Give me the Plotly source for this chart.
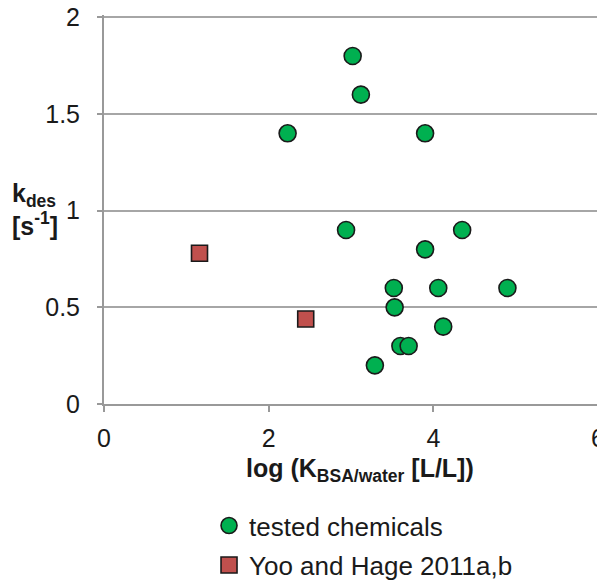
import plotly.graph_objects as go

tested_x = [3.02, 3.12, 2.23, 3.9, 2.94, 4.35, 3.9, 3.52, 4.06, 4.9, 3.53, 4.12, 3.6, 3.7, 3.29]
tested_y = [1.8, 1.6, 1.4, 1.4, 0.9, 0.9, 0.8, 0.6, 0.6, 0.6, 0.5, 0.4, 0.3, 0.3, 0.2]
yoo_x = [1.16, 2.45]
yoo_y = [0.78, 0.44]

fig = go.Figure()
fig.add_trace(go.Scatter(x=tested_x, y=tested_y, mode="markers", name="tested chemicals",
                         legend="legend",
                         marker=dict(symbol="circle", size=17, color="#00B050",
                                     line=dict(color="#1a1a1a", width=1.6))))
fig.add_trace(go.Scatter(x=yoo_x, y=yoo_y, mode="markers", name="Yoo and Hage 2011a,b",
                         legend="legend2",
                         marker=dict(symbol="square", size=16, color="#C0504D",
                                     line=dict(color="#1a1a1a", width=1.6))))

font = "Liberation Sans, Arial, sans-serif"
fs = 25
# page body has an 8px margin, so the figure is 8px smaller than the window
fig.update_layout(
    width=597, height=574,
    margin=dict(l=96, r=7, t=7, b=178, autoexpand=False),
    plot_bgcolor="white", paper_bgcolor="white",
    font=dict(family=font, size=fs, color="#1a1a1a"),
    xaxis=dict(range=[0, 6], tickvals=[0, 2, 4, 6], showgrid=False, zeroline=False,
               showline=True, linecolor="#999999", linewidth=2, automargin=False,
               ticks="outside", ticklen=6, tickcolor="#999999", tickwidth=2,
               ticklabelstandoff=5, ticklabeloverflow="allow", tickfont=dict(size=fs)),
    yaxis=dict(range=[0, 2.012], tickvals=[0, 0.5, 1, 1.5, 2], showgrid=True, gridcolor="#a6a6a6", gridwidth=2,
               zeroline=False, showline=True, linecolor="#999999", linewidth=2, automargin=False,
               ticks="outside", ticklen=5, tickcolor="#999999", tickwidth=2,
               ticklabelstandoff=12, ticklabeloverflow="allow", tickfont=dict(size=fs)),
    legend=dict(x=0.2126, y=-0.3127, xanchor="left", yanchor="middle", font=dict(size=26),
                bgcolor="rgba(0,0,0,0)"),
    legend2=dict(x=0.2126, y=-0.414, xanchor="left", yanchor="middle", font=dict(size=26),
                 bgcolor="rgba(0,0,0,0)"),
    showlegend=True,
)
fig.add_annotation(text="<b>k<sub>des</sub><br>[s<sup>-1</sup>]</b>", xref="paper", yref="paper",
                   x=-0.14, y=0.501, xanchor="center", yanchor="middle", showarrow=False,
                   font=dict(size=fs), align="left")
fig.add_annotation(text="<b>log (K<sub>BSA/water</sub> [L/L])</b>", xref="paper", yref="paper",
                   x=0.518, y=-0.1705, xanchor="center", yanchor="middle", showarrow=False,
                   font=dict(size=fs))

fig.write_html("out.html")
